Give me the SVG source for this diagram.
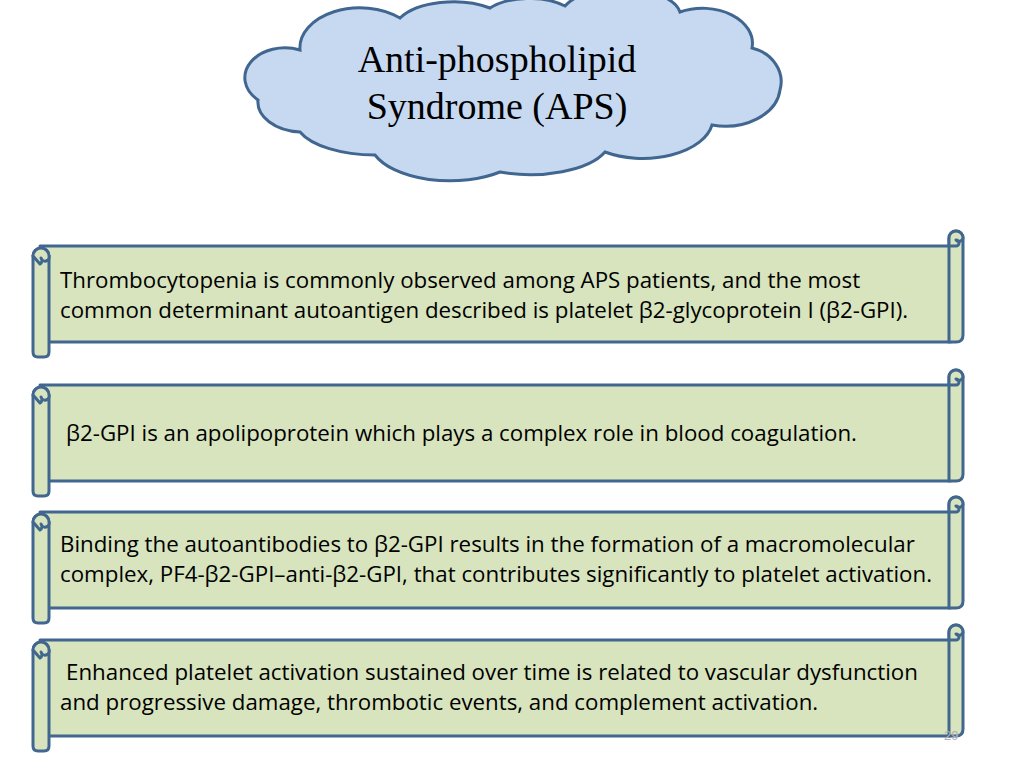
<svg xmlns="http://www.w3.org/2000/svg" width="1024" height="768" viewBox="0 0 1024 768">
<style>
.sc{fill:#d7e4bd;stroke:#41668f;stroke-width:3;stroke-linejoin:round}
.t{font-family:"Open Sans","Liberation Sans",sans-serif;font-size:22.3px;fill:#000}
.c{font-family:"Liberation Serif",serif;font-size:38px;fill:#000;text-anchor:middle}
</style>
<defs>
<g id="scroll">
<path class="sc" d="M40,0 H956 V89 Q956,96 949,96 H40 Z"/>
<path class="sc" d="M949,-8 A7,7 0 0 1 963,-8 V89 Q963,96 956,96 H949 Z"/>
<path class="sc" d="M949,-8 A7,7 0 0 1 963,-8 A4,4 0 0 1 956,-6 A3,3 0 0 1 956,0 H949 Z"/>
<path class="sc" d="M33,10 A8,8 0 0 1 49,10 V106 Q49,111 44,111 H38 Q33,111 33,106 Z"/>
<path class="sc" d="M33,10 A8,8 0 0 1 49,10 A4,4 0 0 1 41,12 A4,4 0 0 1 40,18 Z" fill="none"/>
</g>
</defs>
<g id="cloud">
<path fill="#c6d9f1" stroke="#41668f" stroke-width="3" d="M300,50 A60,40 0 0 1 400,18 A60,30 0 0 1 490,8 A50,25 0 0 1 565,6 A60,28 0 0 1 680,12 A50,35 0 0 1 752,48 A40,35 0 0 1 780,90 A55,40 0 0 1 712,125 A70,40 0 0 1 605,152 A80,35 0 0 1 500,172 A80,40 0 0 1 375,155 A80,35 0 0 1 300,132 A45,30 0 0 1 258,100 A40,30 0 0 1 300,50 Z"/>
<text class="c" x="497" y="72">Anti-phospholipid</text>
<text class="c" x="497" y="119">Syndrome (APS)</text>
</g>
<g id="box1"><use href="#scroll" y="246"/>
<text class="t" x="60" y="288">Thrombocytopenia is commonly observed among APS patients, and the most</text>
<text class="t" x="60" y="318">common determinant autoantigen described is platelet β2-glycoprotein I (β2-GPI).</text></g>
<g id="box2"><use href="#scroll" y="385"/>
<text class="t" x="66" y="441">β2-GPI is an apolipoprotein which plays a complex role in blood coagulation.</text></g>
<g id="box3"><use href="#scroll" y="512"/>
<text class="t" x="60" y="552">Binding the autoantibodies to β2-GPI results in the formation of a macromolecular</text>
<text class="t" x="60" y="582">complex, PF4-β2-GPI–anti-β2-GPI, that contributes significantly to platelet activation.</text></g>
<g id="box4"><use href="#scroll" y="640"/>
<text class="t" x="66" y="680">Enhanced platelet activation sustained over time is related to vascular dysfunction</text>
<text class="t" x="60" y="710">and progressive damage, thrombotic events, and complement activation.</text></g>
<text x="944" y="740" font-family="Liberation Sans,sans-serif" font-size="13" fill="#b0b0b0">29</text>
</svg>
